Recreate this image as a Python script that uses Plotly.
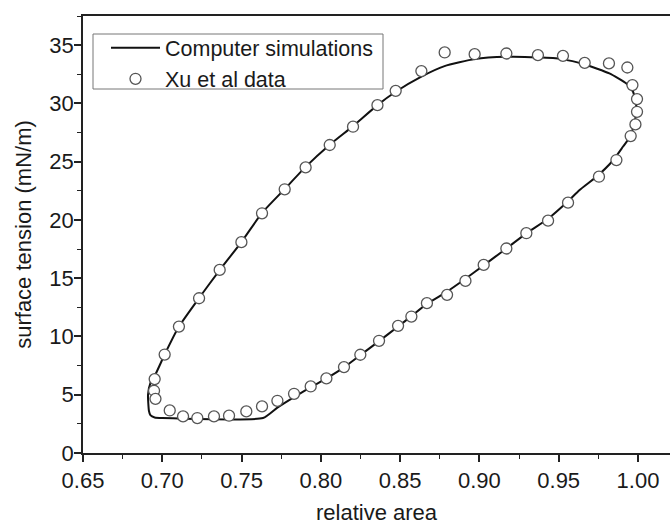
import plotly.graph_objects as go

# Computer simulation loop (relative area, surface tension)
sim_x = [0.6916, 0.6925, 0.6952, 0.700, 0.7635, 0.7726, 0.7831, 0.7936, 0.8035, 0.8146,
         0.8249, 0.8367, 0.8487, 0.8571, 0.8669, 0.8796, 0.8912, 0.9027, 0.917, 0.9296,
         0.9433, 0.9559, 0.9632, 0.9738, 0.9842, 0.9906, 0.9948, 0.9979, 0.999, 0.9969,
         0.9927, 0.982, 0.9664, 0.952, 0.937, 0.917, 0.897, 0.878, 0.8634, 0.8472,
         0.8357, 0.8203, 0.8056, 0.7904, 0.7772, 0.7629, 0.7499, 0.7362, 0.7232, 0.7105,
         0.7015, 0.6952, 0.6925, 0.691, 0.6916]
sim_y = [3.6, 3.25, 3.05, 3.0, 3.0, 3.9, 4.8, 5.65, 6.4, 7.35,
         8.4, 9.6, 10.85, 11.75, 12.8, 13.85, 14.95, 16.1, 17.55, 18.85,
         20.1, 21.6, 22.57, 23.7, 25.1, 26.3, 27.1, 28.3, 29.7, 31.0,
         31.7, 32.57, 33.34, 33.8, 33.95, 34.0, 33.8, 33.2, 32.3, 31.0,
         29.85, 28.05, 26.45, 24.55, 22.65, 20.6, 18.1, 15.7, 13.3, 10.85,
         8.45, 6.6, 6.0, 5.0, 3.6]

# Xu et al experimental data
xu_x = [0.7015, 0.6952, 0.6948, 0.6957, 0.7047, 0.7131, 0.7221, 0.7326, 0.7421, 0.7530,
        0.7629, 0.7726, 0.7831, 0.7936, 0.8035, 0.8146, 0.8249, 0.8367, 0.8487, 0.8571,
        0.8669, 0.8796, 0.8912, 0.9027, 0.9170, 0.9296, 0.9433, 0.9559, 0.9754, 0.9864,
        0.9954, 0.9984, 0.9994, 0.9994, 0.9965, 0.9933, 0.9817, 0.9664, 0.9527, 0.9369,
        0.9170, 0.8970, 0.8781, 0.8634, 0.8472, 0.8357, 0.8203, 0.8056, 0.7904, 0.7772,
        0.7629, 0.7499, 0.7362, 0.7232, 0.7105]
xu_y = [8.45, 6.34, 5.34, 4.65, 3.65, 3.14, 3.0, 3.14, 3.2, 3.57,
        4.0, 4.48, 5.08, 5.71, 6.40, 7.37, 8.43, 9.63, 10.91, 11.71,
        12.86, 13.57, 14.77, 16.14, 17.55, 18.86, 19.94, 21.48, 23.71, 25.14,
        27.2, 28.2, 29.28, 30.37, 31.57, 33.08, 33.43, 33.48, 34.08, 34.14,
        34.28, 34.22, 34.37, 32.77, 31.08, 29.85, 28.0, 26.43, 24.51, 22.63,
        20.57, 18.09, 15.71, 13.28, 10.85]

x_ticks = [0.65, 0.70, 0.75, 0.80, 0.85, 0.90, 0.95, 1.00]
x_ticklabels = ["0.65", "0.70", "0.75", "0.80", "0.85", "0.90", "0.95", "1.00"]
y_ticks = [0, 5, 10, 15, 20, 25, 30, 35]

FONT = "Liberation Sans, Arial, sans-serif"
INK = "#1a1a1a"
FS = 22

fig = go.Figure()
fig.add_trace(go.Scatter(x=sim_x, y=sim_y, mode="lines", name="Computer simulations",
                         line=dict(color="#111111", width=2, shape="spline", smoothing=0.5)))
fig.add_trace(go.Scatter(x=xu_x, y=xu_y, mode="markers", name="Xu et al data",
                         marker=dict(symbol="circle", size=11, color="white",
                                     line=dict(color="#555555", width=1.3))))

# legend frame
fig.add_shape(type="rect", xref="paper", yref="paper",
              x0=(93 - 83) / 587, x1=(383 - 83) / 587,
              y0=1 - (89 - 16) / 437, y1=1 - (34 - 16) / 437,
              line=dict(color="#777777", width=1), fillcolor="rgba(0,0,0,0)", layer="above")

fig.update_layout(
    width=670, height=525,
    margin=dict(l=83, r=0, t=16, b=72),
    paper_bgcolor="white", plot_bgcolor="white",
    font=dict(family=FONT, size=FS, color=INK),
    showlegend=True,
    legend=dict(x=(106 - 83) / 587, y=0.974, xanchor="left", yanchor="top",
                bgcolor="rgba(0,0,0,0)", borderwidth=0,
                font=dict(size=21.5, color=INK), itemwidth=49,
                tracegroupgap=0),
    xaxis=dict(range=[0.65, 1.0202], tickvals=x_ticks, ticktext=x_ticklabels,
               showgrid=False, zeroline=False, showline=True, linecolor="#222222",
               linewidth=1.8, mirror=True, ticks="outside", ticklen=7, tickwidth=1.5,
               tickcolor="#222222",
               minor=dict(ticks="outside", ticklen=4, tickwidth=1.3, tickcolor="#222222",
                          dtick=0.025, tick0=0.65, showgrid=False),
               title=dict(text="relative area", font=dict(size=FS, color=INK), standoff=14)),
    yaxis=dict(range=[0, 37.5], tickvals=y_ticks, ticklabelstandoff=-4,
               showgrid=False, zeroline=False, showline=True, linecolor="#222222",
               linewidth=1.8, mirror=False, ticks="outside", ticklen=7, tickwidth=1.5,
               tickcolor="#222222",
               minor=dict(ticks="outside", ticklen=4, tickwidth=1.3, tickcolor="#222222",
                          dtick=2.5, tick0=0, showgrid=False),
               title=dict(text="surface tension (mN/m)", font=dict(size=FS, color=INK), standoff=12)),
)

fig.write_html("out.html")
